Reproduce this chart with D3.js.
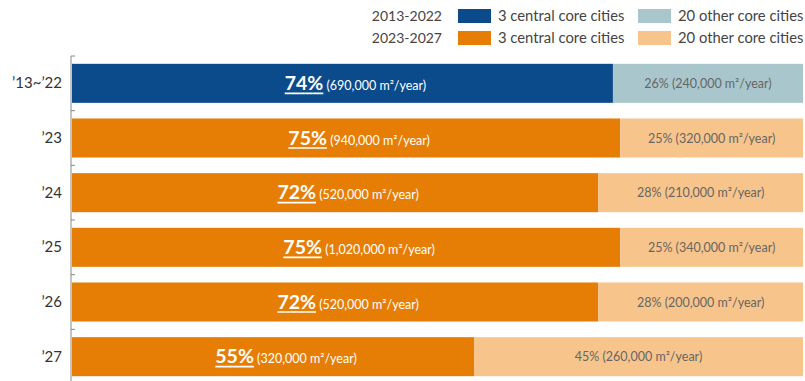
<!DOCTYPE html>
<html><head><meta charset="utf-8">
<script src="https://cdn.jsdelivr.net/npm/d3@7"></script>
<style>body{margin:0;background:#fff;} svg{display:block;font-family:Lato,"Open Sans",sans-serif;}</style>
</head><body><svg id="c" width="805" height="381"></svg>
<script>
const categories = ["’13~’22", "’23", "’24", "’25", "’26", "’27"];
const centralShare = [74, 75, 72, 75, 72, 55];
const otherShare = [26, 25, 28, 25, 28, 45];
const centralArea = ["690,000", "940,000", "520,000", "1,020,000", "520,000", "320,000"];
const otherArea = ["240,000", "320,000", "210,000", "340,000", "200,000", "260,000"];
const period = ["2013-2022", "2023-2027", "2023-2027", "2023-2027", "2023-2027", "2023-2027"];
const legendPeriods = ["2013-2022", "2023-2027"];
const legendSeries = ["3 central core cities", "20 other core cities"];

const colors = {
  "2013-2022": ["#0b4b8b", "#a9c6cd"],
  "2023-2027": ["#e67e05", "#f7c48b"]
};

const svg = d3.select("#c");
const x = d3.scaleLinear().domain([0, 100]).range([72, 803]);
const y = d3.scaleBand().domain(categories).range([56, 384]).paddingInner(0.286).paddingOuter(0.143);

// axis line and ticks
svg.append("line").attr("x1", 71).attr("x2", 71).attr("y1", 56).attr("y2", 381)
  .attr("stroke", "#888").attr("stroke-width", 1);
const bounds = categories.map(c => y(c) - y.step() * y.paddingInner() / 2);
svg.selectAll(".tk").data(bounds).enter().append("line")
  .attr("x1", 71).attr("x2", 75).attr("y1", d => d).attr("y2", d => d)
  .attr("stroke", "#888");

const rows = svg.selectAll(".row").data(categories).enter().append("g");
rows.append("rect").attr("x", x(0)).attr("y", d => y(d))
  .attr("width", (d, i) => x(centralShare[i]) - x(0)).attr("height", y.bandwidth())
  .attr("fill", (d, i) => colors[period[i]][0]);
rows.append("rect").attr("x", (d, i) => x(centralShare[i])).attr("y", d => y(d))
  .attr("width", (d, i) => x(100) - x(centralShare[i])).attr("height", y.bandwidth())
  .attr("fill", (d, i) => colors[period[i]][1]);

// category labels
rows.append("text").attr("x", 62).attr("y", d => y(d) + y.bandwidth() / 2 + 5)
  .attr("text-anchor", "end").attr("font-size", 15).attr("fill", "#333").text(d => d);

// main labels
rows.each(function (d, i) {
  const g = d3.select(this);
  const cx = (x(0) + x(centralShare[i])) / 2 + 13;
  const by = y(d) + y.bandwidth() / 2 + 6.5;
  const t = g.append("text").attr("x", cx).attr("y", by).attr("text-anchor", "middle").attr("fill", "#fff");
  const p = t.append("tspan").attr("font-size", 19.5).attr("font-weight", "bold").text(centralShare[i] + "%");
  t.append("tspan").attr("font-size", 12.5).text(" (" + centralArea[i] + " m²/year)");
  const tb = t.node().getBBox();
  const pw = p.node().getComputedTextLength();
  g.append("line").attr("x1", tb.x).attr("x2", tb.x + pw).attr("y1", by + 3.5).attr("y2", by + 3.5)
    .attr("stroke", "#fff").attr("stroke-width", 1.6);
  g.append("text").attr("x", (x(centralShare[i]) + x(100)) / 2).attr("y", by - 2)
    .attr("text-anchor", "middle").attr("font-size", 12.5).attr("fill", "#666")
    .text(otherShare[i] + "% (" + otherArea[i] + " m²/year)");
});

// legend
const lg = svg.append("g");
legendPeriods.forEach((p, r) => {
  const yy = 9 + r * 22;
  lg.append("text").attr("x", 442).attr("y", yy + 12).attr("text-anchor", "end")
    .attr("font-size", 14).attr("fill", "#444").text(p);
  [458, 638].forEach((sx, k) => {
    lg.append("rect").attr("x", sx).attr("y", yy).attr("width", 33).attr("height", 14)
      .attr("fill", colors[p][k]);
    lg.append("text").attr("x", sx + 40).attr("y", yy + 12)
      .attr("font-size", 14.8).attr("fill", "#444").text(legendSeries[k]);
  });
});
</script></body></html>
